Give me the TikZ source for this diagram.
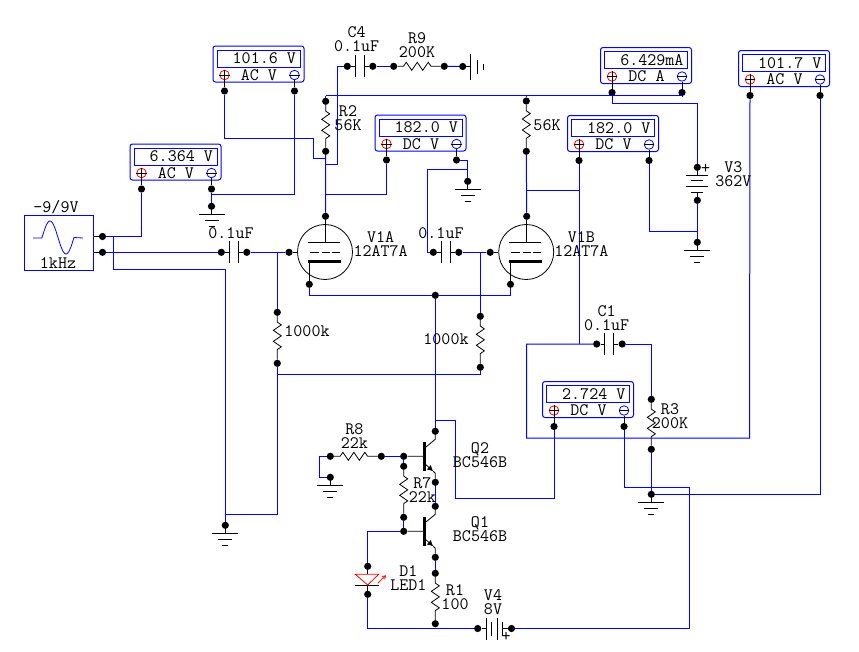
\documentclass[tikz,border=0pt]{standalone}
\usetikzlibrary{decorations.pathmorphing,arrows.meta}
\tikzset{
  wire/.style={blue,line width=1pt},
  part/.style={line width=.8pt},
  dot/.style={circle,fill=black,inner sep=0pt,minimum size=7.2},
  lbl/.style={font=\ttfamily\fontsize{17.5}{14}\selectfont,align=center,inner sep=0pt},
  mbox/.style={draw=blue,line width=1pt,rounded corners=2.5pt,minimum width=91,minimum height=36,inner sep=0pt},
  mdisp/.style={draw=blue,line width=1pt,minimum width=83,minimum height=17,inner sep=0pt},
  mterm/.style={circle,part,minimum size=9.5,inner sep=0pt},
  res/.style={part,decorate,decoration={zigzag,segment length=11,amplitude=4,pre length=6,post length=6}}
}
\newcommand{\meter}[5]{\begin{scope}[shift={(#2,#3)}]
  \node[mbox] (#1) at (45.5,18) {};
  \node[mdisp] (#1d) at (45.5,12.5) {};
  \node[lbl,anchor=east] (#1v) at (83,12.5) {#4};
  \node[lbl] (#1l) at (46,29) {#5};
  \node[mterm,draw=red] (#1x) at (11.5,29) {};
  \node[mterm,draw=blue] (#1y) at (81.5,29) {};
  \node[dot] (#1p) at (11.5,45) {};
  \node[dot] (#1n) at (81.5,45) {};
  \draw[part] (#1x.north) -- (#1p) (#1x.west) -- (#1x.east) (#1y.west) -- (#1y.east) (#1y.south) -- (#1n);
\end{scope}}
\newcommand{\gnd}[4][0]{\begin{scope}[shift={(#3,#4)}]
  \node[dot] (#2) at (0,0) {};
  \begin{scope}[rotate=#1]
    \draw[part] (0,0) -- (0,8) (-13,8) -- (13,8) (-7,14.5) -- (7,14.5) (-3,20.5) -- (3,20.5);
  \end{scope}
\end{scope}}
\newcommand{\capx}[3]{\begin{scope}[shift={(#2,#3)}]
  \node[dot] (#1a) at (0,0) {};
  \node[dot] (#1b) at (25.5,0) {};
  \draw[part] (#1a) -- (8,0) (8,-11) -- (8,11) (17,-11) -- (17,11) (17,0) -- (#1b);
\end{scope}}
\newcommand{\res}[3]{
  \node[dot] (#1a) at (#2) {};
  \node[dot] (#1b) at (#3) {};
  \draw[res] (#1a) -- (#1b);}
\newcommand{\tube}[3]{\begin{scope}[shift={(#2,#3)}]
  \node[draw,part,circle,minimum size=55,inner sep=0pt] (#1) at (0,0) {};
  \node[dot] (#1p) at (0.5,-35.7) {};
  \node[dot] (#1g) at (-36,0.3) {};
  \node[dot] (#1k) at (-15.7,32.3) {};
  \draw[part] (#1p) -- (0.5,-9.3) (-17,-9.3) -- (15,-9.3);
  \draw[part] (#1g) -- (-28,0.3) (-15,0.3) -- (-6,0.3) (-3,0.3) -- (5,0.3) (7,0.3) -- (15,0.3);
  \draw[line width=3pt] (-17,9.5) -- (16,9.5);
  \draw[part] (-15.7,9.5) -- (#1k);
\end{scope}}
\newcommand{\bjt}[3]{\begin{scope}[shift={(#2,#3)}]
  \node[dot] (#1b) at (-20.6,0) {};
  \node[dot] (#1c) at (11,-25) {};
  \node[dot] (#1e) at (11,26) {};
  \draw[part] (#1b) -- (0,0) (#1c) -- (11,-17) -- (0,-8);
  \draw[line width=3pt] (0,-14) -- (0,14.4);
  \draw[part,-{Latex[length=6,width=6]}] (0,7) -- (9,15);
  \draw[part] (9,15) -- (11,17) -- (#1e);
\end{scope}}
\begin{document}
\begin{tikzpicture}[x=1pt,y=-1pt]
  \useasboundingbox (0,0) rectangle (859,651);
  \meter{ma}{130}{144}{6.364\ V}{AC\ V}
  \meter{mb}{213}{46}{101.6\ V}{AC\ V}
  \meter{mc}{375}{115}{182.0\ V}{DC\ V}
  \meter{md}{567.5}{115.5}{182.0\ V}{DC\ V}
  \meter{me}{600.5}{47.5}{6.429mA}{DC\ A}
  \meter{mf}{738.5}{50.5}{101.7\ V}{AC\ V}
  \meter{mg}{542.5}{381.5}{2.724\ V}{DC\ V}
  \gnd{ga}{211.5}{206.3}
  \gnd{gb}{467.7}{181.3}
  \gnd{gc}{697.3}{242.3}
  \gnd{gd}{651.3}{494.3}
  \gnd{ge}{330.3}{477.3}
  \gnd{gf}{225.3}{525.3}
  \gnd[90]{gg}{462.7}{66.5}
  \capx{ca}{221.3}{252.3}
  \capx{cb}{433.3}{252.3}
  \capx{cc}{347.3}{66.3}
  \capx{cd}{596.7}{344}
  \res{ra}{325.7,101.3}{325.7,151.3}
  \res{rb}{526.3,101}{526.3,151.3}
  \res{rc}{393.7,66.3}{444.3,66.3}
  \res{rd}{277.3,312.3}{277.3,363.3}
  \res{re}{480.3,316.3}{480.3,367.3}
  \res{rf}{651.3,399.3}{651.3,449.3}
  \res{rg}{330.3,456.3}{381.3,456.3}
  \res{rh}{403.7,466.3}{403.7,517.3}
  \res{ri}{435.3,573.3}{435.3,623.7}
  \tube{va}{325}{252}
  \tube{vb}{526.2}{252}
  \bjt{qb}{424.3}{456.3}
  \bjt{qa}{424.3}{531.3}
  \node[draw=blue,line width=1pt,minimum width=69.4,minimum height=55.4,inner sep=0pt] (src) at (59,243) {};
  \draw[blue,line width=.8pt] (33,238) -- (42,238) -- plot[domain=0:360,samples=40,smooth] ({42+\x/360*32},{237.5-16.5*sin(\x)}) -- (83,238);
  \node[dot] (srca) at (102.5,236.5) {};
  \node[dot] (srcb) at (102.5,252.3) {};
  \draw[part] (src.east |- srca) -- (srca) (src.east |- srcb) -- (srcb);
  \node[dot] (vca) at (697.3,167.3) {};
  \node[dot] (vcb) at (697.3,200.3) {};
  \draw[part] (vca) -- (697.3,175) (vcb) -- (697.3,192.7);
  \foreach \yy/\hw in {175/11,180.5/6,186.7/11,192.7/6}
    \draw[part] (697.3-\hw,\yy) -- (697.3+\hw,\yy);
  \node[dot] (vda) at (477.7,628.5) {};
  \node[dot] (vdb) at (511.5,628.5) {};
  \draw[part] (vda) -- (486.3,628.5) (502.7,628.5) -- (vdb);
  \foreach \xx/\hw in {486.3/11,491.7/7,497/11,502.7/7}
    \draw[part] (\xx,628.5-\hw) -- (\xx,628.5+\hw);
  \node[dot] (da) at (367.7,566.3) {};
  \node[dot] (db) at (367.7,594.3) {};
  \draw[part,red] (355.3,574.3) -- (378.7,574.3) -- (367.7,585) -- cycle;
  \draw[part] (da) -- (367.7,574.3) (355,585) -- (379,585) (367.7,585) -- (db);
  \draw[part,red,-{Straight Barb[length=3,width=4]}] (378,583) -- (386,575.3);
  \coordinate (sj) at (113.5,236.5);
  \coordinate (sk) at (225.3,269.3);
  \coordinate (gj) at (225.3,514.3);
  \coordinate (jl) at (277.3,252.3);
  \coordinate (jm) at (480.3,252.3);
  \coordinate (jn) at (277.3,374.3);
  \coordinate (ab) at (211.5,194.3);
  \coordinate (ad) at (313.7,138.3);
  \coordinate (ae) at (313.7,158.3);
  \coordinate (af) at (325.7,158.3);
  \coordinate (ag) at (325.7,164.7);
  \coordinate (ah) at (337.3,164.7);
  \coordinate (ai) at (325.7,194.3);
  \coordinate (rail) at (325.7,95.5);
  \coordinate (ba) at (467.7,169.3);
  \coordinate (bb) at (427.3,169.3);
  \coordinate (ea) at (697.3,103.3);
  \coordinate (eb) at (697.3,231.3);
  \coordinate (ej) at (526.3,190.3);
  \coordinate (fa) at (526.7,344);
  \coordinate (fb) at (749.5,438);
  \coordinate (ka) at (309.3,295.3);
  \node[dot] (kb) at (435.3,295.3) {};
  \coordinate (ha) at (455.3,498.3);
  \coordinate (hb) at (455.3,420.3);
  \coordinate (hc) at (435.3,420.3);
  \coordinate (ia) at (689.7,487.3);
  \coordinate (ja) at (319.3,456.3);
  \coordinate (jb) at (319.3,477.3);
  \begin{scope}[wire]
    \draw (srca) -| (map);
    \draw (sj) |- (sk) -- (gf);
    \draw (srcb) -- (caa);
    \draw (cab) -- (vag);
    \draw (cbb) -- (vbg);
    \draw (jl) -- (rda);
    \draw (jm) -- (rea);
    \draw (gj) -| (rdb);
    \draw (reb) |- (jn);
    \draw (man) -- (ga);
    \draw (ab) -| (mbn);
    \draw (mbp) |- (ad) -- (ae) -- (af);
    \draw (rab) -- (vap);
    \draw (ag) -- (ah) |- (cca);
    \draw (ccb) -- (rca);
    \draw (rcb) -- (gg);
    \draw (ai) -| (mcp);
    \draw (rail) -- (raa);
    \draw (rail) -| (men);
    \draw (rba) -- (rba |- rail);
    \draw (mep) |- (ea) -- (vca);
    \draw (vcb) -- (gc);
    \draw (mdn) |- (eb);
    \draw (mcn) -| (gb);
    \draw (ba) -- (bb) |- (cba);
    \draw (rbb) -- (vbp);
    \draw (ej) -| (mdp);
    \draw (mdp) -- (mdp |- cda);
    \draw (cda) -- (fa) |- (fb) -- (mfp);
    \draw (cdb) -| (rfa);
    \draw (rfb) -- (gd);
    \draw (gd) -| (mfn);
    \draw (vak) -- (ka) -- (kb) -| (vbk);
    \draw (kb) -- (qbc);
    \draw (mgp) |- (ha) -- (hb) -- (hc);
    \draw (mgn) |- (ia) |- (vdb);
    \draw (rga) -- (ja) -- (jb) -- (ge);
    \draw (rgb) -- (qbb);
    \draw (qbb) -- (rha);
    \draw (rhb) -- (qab);
    \draw (qbe) -- (qac);
    \draw (qae) -- (ria);
    \draw (qab) -| (da);
    \draw (db) |- (vda);
    \draw (rib) -- (rib |- vda);
  \end{scope}
  \node[lbl] (lsa) at (56,207) {-9/9V};
  \node[lbl] (lsb) at (58,263) {1kHz};
  \node[lbl] (lca) at (231,233) {0.1uF};
  \node[lbl] (lcb) at (441,233) {0.1uF};
  \node[lbl] (lcc) at (356.7,39) {C4\\0.1uF};
  \node[lbl] (lcd) at (606.7,318) {C1\\0.1uF};
  \node[lbl] (lra) at (348,118) {R2\\56K};
  \node[lbl] (lrb) at (547,125) {56K};
  \node[lbl] (lrc) at (417,45) {R9\\200K};
  \node[lbl] (lrd) at (307,331) {1000k};
  \node[lbl] (lre) at (446,339) {1000k};
  \node[lbl] (lrf) at (670,416) {R3\\200K};
  \node[lbl] (lrg) at (354.3,436) {R8\\22k};
  \node[lbl] (lrh) at (422.3,490) {R7\\22k};
  \node[lbl] (lri) at (455,597) {R1\\100};
  \node[lbl] (lva) at (380.7,244) {V1A\\12AT7A};
  \node[lbl] (lvb) at (581.3,244) {V1B\\12AT7A};
  \node[lbl] (lvc) at (733.3,173.7) {V3\\362V};
  \node[lbl] (lvd) at (493,601.7) {V4\\8V};
  \node[lbl] (lqb) at (480,455) {Q2\\BC546B};
  \node[lbl] (lqa) at (480,529) {Q1\\BC546B};
  \node[lbl] (ld) at (408.3,578) {D1\\LED1};
  \node[lbl] (lpa) at (705.7,169.3) {+};
  \node[lbl] (lpb) at (506,636.7) {+};
\end{tikzpicture}
\end{document}
